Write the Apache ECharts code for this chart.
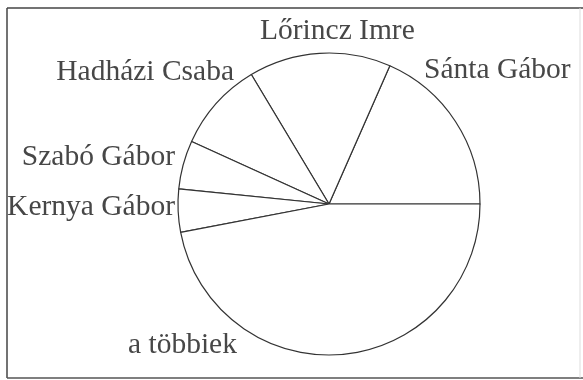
<!DOCTYPE html>
<html>
<head>
<meta charset="utf-8">
<script src="https://cdn.jsdelivr.net/npm/echarts@6/dist/echarts.min.js"></script>
<style>
  html, body { margin: 0; padding: 0; background: #fff; }
  #chart { width: 583px; height: 380px; }
</style>
</head>
<body>
<div id="chart"></div>
<script>
// slices counterclockwise starting from 3 o'clock
var names = ['Sánta Gábor', 'Lőrincz Imre', 'Hadházi Csaba', 'Szabó Gábor', 'Kernya Gábor', 'a többiek']
var shares = [18.4, 15.2, 9.6, 5.2, 4.6, 47.0]

// where each label sits (x, y, align) - the scan has them hand placed
var labelSpots = [
    [424, 70, 'left'],
    [260, 31, 'left'],
    [234, 72, 'right'],
    [175, 157, 'right'],
    [175, 207, 'right'],
    [128, 345, 'left']
]

var chart = echarts.init(document.getElementById('chart'))

var option = {
    backgroundColor: '#fff',
    animation: false,
    graphic: [
        { type: 'line', shape: { x1: 7, y1: 8, x2: 583, y2: 8 }, style: { stroke: '#444', lineWidth: 1.5 } },
        { type: 'line', shape: { x1: 7, y1: 8, x2: 7, y2: 378 }, style: { stroke: '#444', lineWidth: 1.5 } },
        { type: 'line', shape: { x1: 7, y1: 378, x2: 583, y2: 378 }, style: { stroke: '#555', lineWidth: 1.5 } },
        { type: 'line', shape: { x1: 580, y1: 8, x2: 580, y2: 378 }, style: { stroke: '#ddd', lineWidth: 1 } }
    ],
    series: [{
        type: 'pie',
        center: [329, 204],
        radius: 151,
        startAngle: 0,
        clockwise: false,
        data: names.map(function (n, i) { return { name: n, value: shares[i] } }),
        itemStyle: { color: '#fff', borderColor: '#333', borderWidth: 1.2 },
        label: {
            show: true,
            position: 'outside',
            formatter: '{b}',
            overflow: 'none',
            width: 300,
            fontFamily: '"Liberation Serif", "DejaVu Serif", serif',
            fontSize: 29.5,
            color: '#474747'
        },
        labelLine: { show: false },
        labelLayout: function (params) {
            var s = labelSpots[params.dataIndex]
            return { x: s[0], y: s[1], align: s[2], verticalAlign: 'middle' }
        },
        emphasis: { disabled: true }
    }]
}

chart.setOption(option)
</script>
</body>
</html>
